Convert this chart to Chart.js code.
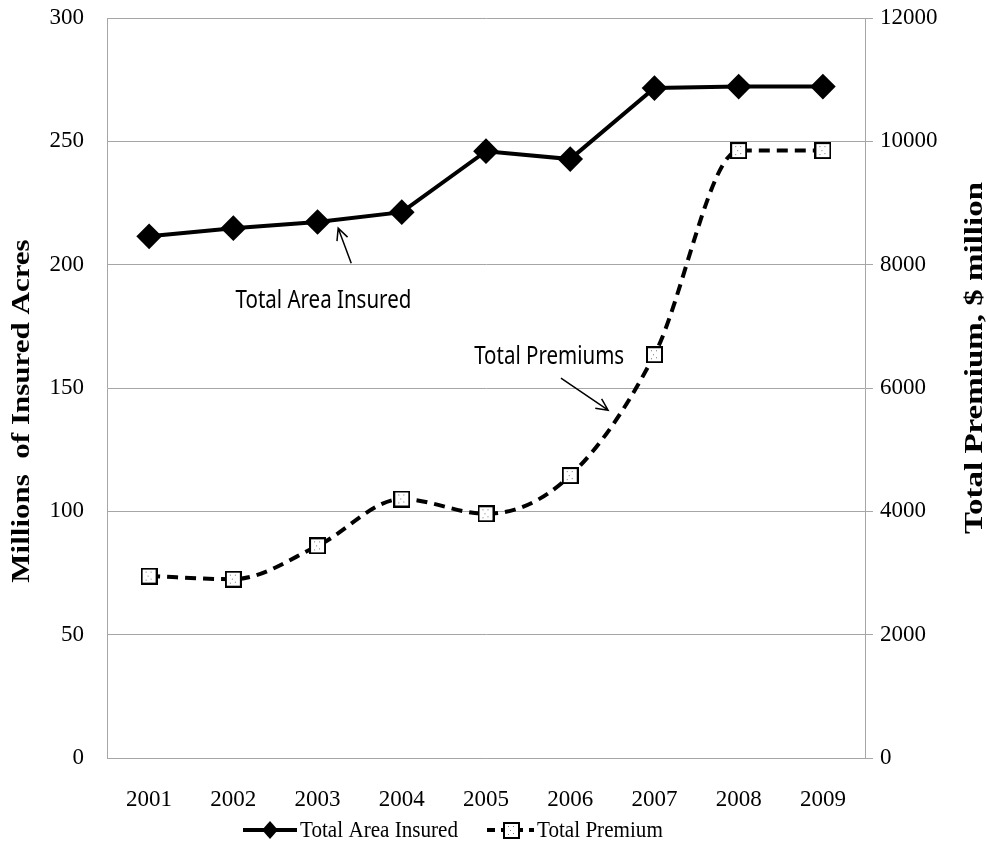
<!DOCTYPE html>
<html>
<head>
<meta charset="utf-8">
<script src="https://cdn.jsdelivr.net/npm/chart.js@4.4.1/dist/chart.umd.min.js"></script>
<style>
  html, body { margin: 0; padding: 0; background: #fff; }
  #wrap { width: 986px; height: 852px; }
</style>
</head>
<body>
<div id="wrap"><canvas id="c" width="986" height="852"></canvas></div>
<script>
// data
var years = ['2001', '2002', '2003', '2004', '2005', '2006', '2007', '2008', '2009'];
var areaInsured = [211.5, 214.8, 217.3, 221.3, 246.0, 242.8, 271.6, 272.2, 272.2];   // million acres
var totalPremium = [2950, 2900, 3440, 4200, 3960, 4580, 6540, 9850, 9850];          // $ million

// callouts, placed in data units (x = category index, y = left axis)
var callouts = [
  { text: 'Total Area Insured', at: [2.07, 185.3], tail: [2.40, 200.6], tip: [2.245, 214.8] },
  { text: 'Total Premiums', at: [4.75, 162.5], tail: [4.89, 154.0], tip: [5.45, 141.0] }
];

var GRID = '#a6a6a6';
var SERIF = '"Liberation Serif", "Times New Roman", serif';

// white square marker with a few dots inside
function squareMarker(size) {
  var cv = document.createElement('canvas');
  cv.width = size; cv.height = size;
  var g = cv.getContext('2d');
  g.fillStyle = '#fff';
  g.fillRect(1, 1, size - 2, size - 2);
  g.strokeStyle = '#000';
  g.lineWidth = 2;
  g.strokeRect(1, 1, size - 2, size - 2);
  g.fillStyle = '#777';
  [[5, 4], [10, 4], [7, 8], [5, 12], [10, 11]].forEach(function (p) {
    g.fillRect(p[0], p[1], 1, 1);
  });
  return cv;
}
var sq = squareMarker(17);

// text squeezed, like the stretched original
function squeezed(ctx, text, x, y, sx, rot, sy) {
  ctx.save();
  ctx.translate(x, y);
  if (rot) ctx.rotate(rot);
  ctx.scale(sx, sy || 1);
  ctx.fillText(text, 0, 0);
  ctx.restore();
}

// keep the plot top fixed regardless of tick label overflow
function fixY(width) {
  return function (s) {
    s.width = width;
    s.paddingTop = 18;
    s.paddingBottom = 0;
  };
}

var calloutPlugin = {
  id: 'callouts',
  afterDatasetsDraw: function (chart) {
    var ctx = chart.ctx, x = chart.scales.x, y = chart.scales.y;
    ctx.save();
    ctx.fillStyle = '#000';
    ctx.strokeStyle = '#000';
    ctx.lineWidth = 1.5;
    ctx.font = '25px "Noto Sans", sans-serif';
    ctx.textAlign = 'center';
    ctx.textBaseline = 'middle';
    callouts.forEach(function (c) {
      squeezed(ctx, c.text, x.getPixelForValue(c.at[0]), y.getPixelForValue(c.at[1]), 0.82);
      var x0 = x.getPixelForValue(c.tail[0]), y0 = y.getPixelForValue(c.tail[1]);
      var x1 = x.getPixelForValue(c.tip[0]), y1 = y.getPixelForValue(c.tip[1]);
      ctx.beginPath();
      ctx.moveTo(x0, y0); ctx.lineTo(x1, y1);
      var a = Math.atan2(y1 - y0, x1 - x0), h = 13;
      ctx.moveTo(x1 - h * Math.cos(a - 0.45), y1 - h * Math.sin(a - 0.45));
      ctx.lineTo(x1, y1);
      ctx.lineTo(x1 - h * Math.cos(a + 0.45), y1 - h * Math.sin(a + 0.45));
      ctx.stroke();
    });
    ctx.restore();
  },
  afterDraw: function (chart) {
    var ctx = chart.ctx, area = chart.chartArea;
    ctx.save();
    ctx.fillStyle = '#000';
    ctx.strokeStyle = '#000';

    // axis titles
    ctx.textAlign = 'center';
    ctx.textBaseline = 'middle';
    ctx.font = 'bold 31px ' + SERIF;
    squeezed(ctx, 'Millions  of Insured Acres', 23, area.top + 393, 1, -Math.PI / 2, 0.8);
    ctx.font = 'bold 33px ' + SERIF;
    squeezed(ctx, 'Total Premium, $ million', 975, area.top + 340, 1, -Math.PI / 2, 0.78);

    // legend at the bottom
    var cy = 830;
    ctx.lineWidth = 4;
    ctx.beginPath(); ctx.moveTo(243, cy); ctx.lineTo(297, cy); ctx.stroke();
    ctx.beginPath();
    ctx.moveTo(270, cy - 9); ctx.lineTo(278, cy); ctx.lineTo(270, cy + 9); ctx.lineTo(262, cy);
    ctx.closePath(); ctx.fill();
    ctx.setLineDash([8, 6]);
    ctx.beginPath(); ctx.moveTo(487, cy); ctx.lineTo(534, cy); ctx.stroke();
    ctx.setLineDash([]);
    ctx.drawImage(sq, 503, cy - 8, 17, 17);
    ctx.font = '24px ' + SERIF;
    ctx.textAlign = 'left';
    squeezed(ctx, 'Total Area Insured', 300, cy + 1, 0.88);
    squeezed(ctx, 'Total Premium', 537, cy + 1, 0.88);
    ctx.restore();
  }
};

new Chart(document.getElementById('c'), {
  type: 'line',
  data: {
    labels: years,
    datasets: [{
      label: 'Total Area Insured',
      data: areaInsured,
      yAxisID: 'y',
      borderColor: '#000',
      backgroundColor: '#000',
      borderWidth: 4,
      pointStyle: 'rectRot',
      pointRadius: 10,
      pointHoverRadius: 10,
      tension: 0
    }, {
      label: 'Total Premium',
      data: totalPremium,
      yAxisID: 'y1',
      borderColor: '#000',
      backgroundColor: '#fff',
      borderWidth: 4,
      borderDash: [11, 7],
      pointStyle: sq,
      cubicInterpolationMode: 'monotone'
    }]
  },
  options: {
    responsive: false,
    animation: false,
    layout: { padding: 0 },
    plugins: { legend: { display: false }, tooltip: { enabled: false } },
    scales: {
      x: {
        offset: true,
        grid: { display: false },
        border: { color: GRID },
        ticks: { color: '#000', font: { family: SERIF, size: 23 }, padding: 20 },
        afterFit: function (s) { s.height = 94; }
      },
      y: {
        position: 'left',
        min: 0, max: 300,
        ticks: { stepSize: 50, color: '#000', font: { family: SERIF, size: 23 }, padding: 23 },
        grid: { color: GRID, drawTicks: false },
        border: { color: GRID },
        afterFit: fixY(107)
      },
      y1: {
        position: 'right',
        min: 0, max: 12000,
        ticks: {
          stepSize: 2000, color: '#000', font: { family: SERIF, size: 23 }, padding: 7,
          callback: function (v) { return String(v); }
        },
        grid: { drawOnChartArea: false, color: GRID, tickLength: 8 },
        border: { color: GRID },
        afterFit: fixY(121)
      }
    }
  },
  plugins: [calloutPlugin]
});
</script>
</body>
</html>
